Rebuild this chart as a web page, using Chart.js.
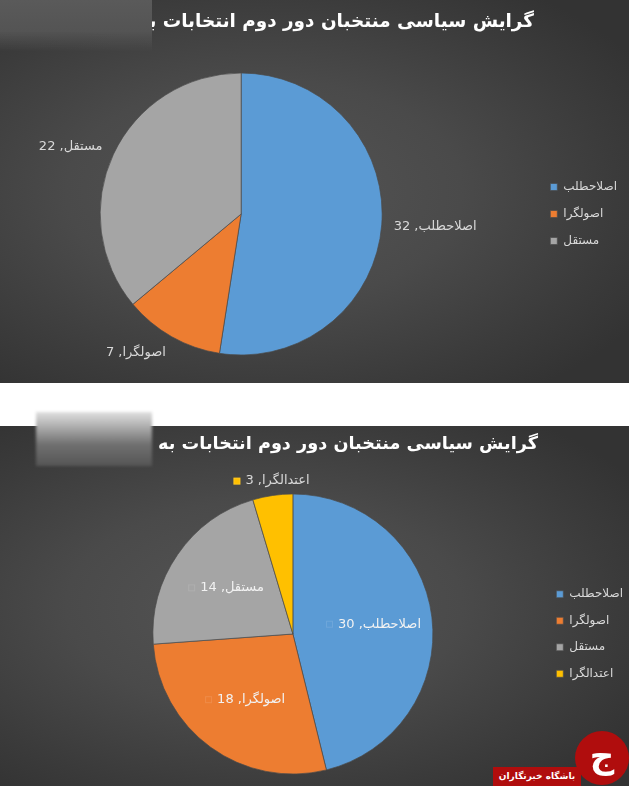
<!DOCTYPE html>
<html><head><meta charset="utf-8">
<script src="https://cdn.jsdelivr.net/npm/chart.js@4.4.1/dist/chart.umd.min.js"></script>
<style>
html,body{margin:0;padding:0;background:#fff;width:629px;height:786px;overflow:hidden;position:relative;}
.panel{position:absolute;left:0;width:629px;overflow:hidden;
  background:radial-gradient(ellipse 70% 65% at 42% 50%, #555555 0%, #4a4a4a 45%, #3b3b3b 80%, #333333 100%);}
#p1{top:0;height:383px;}
#p2{top:426px;height:360px;}
.title{position:absolute;direction:rtl;color:#ffffff;font-family:"DejaVu Sans";font-weight:bold;white-space:nowrap;line-height:20px;}
canvas{position:absolute;top:0;}
#blur1{position:absolute;left:0;top:0;width:152px;height:52px;background:linear-gradient(to bottom,#5a5a5a 0%,#545454 60%,rgba(80,80,80,0) 100%);}
#blur2{position:absolute;left:36px;top:412px;width:116px;height:54px;background:linear-gradient(to bottom,#e0e0e0 0%,#a8a8a8 30%,#707070 60%,#555555 100%);filter:blur(1.5px);}
#wmCircle{position:absolute;left:575px;top:731px;width:54px;height:54px;border-radius:50%;background:#b00d0d;color:#fff;font:bold 34px "DejaVu Sans";text-align:center;line-height:50px;}
#wmBar{position:absolute;left:493px;top:767px;width:88px;height:19px;background:#b00d0d;color:#fff;font:bold 9px "DejaVu Sans";text-align:center;line-height:19px;direction:rtl;}
</style></head>
<body>
<div class="panel" id="p1"><canvas id="c1"></canvas><div class="title" id="t1"></div><div id="blur1"></div></div>
<div class="panel" id="p2"><canvas id="c2"></canvas><div class="title" id="t2"></div></div>
<div id="blur2"></div>
<div id="wmBar">باشگاه خبرنگاران</div>
<div id="wmCircle">ج</div>
<script>
// ---- data ----
const chartTitle = 'گرایش سیاسی منتخبان دور دوم انتخابات به';
const topCategories = ['اصلاحطلب', 'اصولگرا', 'مستقل'];
const topValues = [32, 7, 22];
const bottomCategories = ['اصلاحطلب', 'اصولگرا', 'مستقل', 'اعتدالگرا'];
const bottomValues = [30, 18, 14, 3];
const sliceColors = ['#5b9bd5', '#ed7d31', '#a5a5a5', '#ffc000'];

// ---- titles (fit to the reference width) ----
function setTitle(id, rightEdge, targetWidth, centerY) {
  const el = document.getElementById(id);
  el.textContent = chartTitle;
  const m = document.createElement('canvas').getContext('2d');
  m.font = 'bold 20px "DejaVu Sans"';
  const w = m.measureText(chartTitle).width;
  const fs = 20 * targetWidth / w;
  el.style.fontSize = fs.toFixed(2) + 'px';
  el.style.right = (629 - rightEdge) + 'px';
  el.style.top = (centerY - 10) + 'px';
}
setTitle('t1', 534, 396, 21);
setTitle('t2', 538, 380, 17);

// ---- slice label plugin ----
const sliceLabels = {
  id: 'sliceLabels',
  afterDatasetsDraw(chart, args, opts) {
    const ctx = chart.ctx;
    const meta = chart.getDatasetMeta(0);
    const ds = chart.data.datasets[0];
    ctx.save();
    ctx.font = opts.font;
    ctx.direction = 'rtl';
    ctx.textBaseline = 'middle';
    meta.data.forEach((arc, i) => {
      const p = arc.getProps(['x', 'y', 'startAngle', 'endAngle', 'outerRadius'], true);
      const mid = (p.startAngle + p.endAngle) / 2;
      const span = p.endAngle - p.startAngle;
      const cos = Math.cos(mid), sin = Math.sin(mid);
      const text = chart.data.labels[i] + ', ' + ds.data[i];
      const tw = ctx.measureText(text).width;
      const keyW = opts.key ? opts.keySize + opts.keyGap : 0;
      const w = tw + keyW;
      const h = opts.lineHeight;
      const outside = opts.mode === 'outside' || span < opts.minInsideAngle;
      let ax, ay, left;
      if (outside) {
        const rr = p.outerRadius + opts.offset;
        ax = p.x + rr * cos;
        ay = p.y + rr * sin + sin * h / 2;
        if (cos > 0.25) left = ax; else if (cos < -0.25) left = ax - w; else left = ax - w / 2;
      } else {
        const rr = p.outerRadius * opts.insideRatio;
        ax = p.x + rr * cos;
        ay = p.y + rr * sin;
        left = ax - w / 2;
      }
      if (opts.key) {
        ctx.fillStyle = ds.backgroundColor[i];
        ctx.fillRect(left, ay - opts.keySize / 2, opts.keySize, opts.keySize);
        ctx.strokeStyle = 'rgba(255,255,255,0.12)';
        ctx.lineWidth = 1;
        ctx.strokeRect(left + 0.5, ay - opts.keySize / 2 + 0.5, opts.keySize - 1, opts.keySize - 1);
      }
      ctx.fillStyle = outside ? opts.outsideColor : opts.insideColor;
      ctx.textAlign = 'right';
      ctx.fillText(text, left + w, ay);
    });
    ctx.restore();
  }
};

// ---- chart builder ----
function makeChart(canvasId, cats, vals, cfg) {
  const fam = '"DejaVu Sans"';
  const m = document.createElement('canvas').getContext('2d');
  m.font = cfg.fs + 'px ' + fam;
  const tw = Math.max(...cats.map(c => m.measureText(c).width));
  const legendW = cfg.pad + cfg.box + cfg.fs / 2 + tw + 10;
  const legendLeft = cfg.markerX - cfg.pad;
  const canvasLeft = 2 * cfg.cx - legendLeft;
  const canvasW = Math.ceil(legendLeft + legendW - canvasLeft);
  const cv = document.getElementById(canvasId);
  cv.width = canvasW; cv.height = cfg.panelH;
  cv.style.width = canvasW + 'px'; cv.style.height = cfg.panelH + 'px';
  cv.style.left = canvasLeft + 'px';
  const padTop = cfg.cy - cfg.r - 1;
  const padBottom = cfg.panelH - (cfg.cy + cfg.r + 1);
  return new Chart(cv, {
    type: 'pie',
    data: {
      labels: cats,
      datasets: [{
        data: vals,
        backgroundColor: sliceColors.slice(0, vals.length),
        borderColor: 'rgba(75,75,75,0.7)',
        borderWidth: 1,
        radius: cfg.r
      }]
    },
    options: {
      responsive: false,
      animation: false,
      layout: { padding: { top: padTop, bottom: padBottom, left: 0, right: 0 } },
      plugins: {
        tooltip: { enabled: false },
        title: { display: false },
        legend: {
          position: 'right',
          align: 'center',
          labels: {
            color: '#d9d9d9',
            boxWidth: cfg.box,
            boxHeight: cfg.box,
            padding: cfg.pad,
            font: { family: fam, size: cfg.fs }
          }
        },
        sliceLabels: cfg.labels
      }
    },
    plugins: [sliceLabels]
  });
}

makeChart('c1', topCategories, topValues, {
  cx: 241, cy: 214, r: 141, panelH: 383,
  markerX: 550, pad: 15, box: 7, fs: 12,
  labels: {
    mode: 'outside', font: '13px "DejaVu Sans"', lineHeight: 13,
    offset: 12, outsideColor: '#d9d9d9', insideColor: '#ffffff', key: false
  }
});

makeChart('c2', bottomCategories, bottomValues, {
  cx: 292, cy: 208, r: 140, panelH: 360,
  markerX: 555, pad: 14.5, box: 7, fs: 12,
  labels: {
    mode: 'best', minInsideAngle: 0.5, insideRatio: 0.58,
    font: '13px "DejaVu Sans"', lineHeight: 13, offset: 8,
    outsideColor: '#d9d9d9', insideColor: '#f2f2f2',
    key: true, keySize: 7, keyGap: 5
  }
});
</script>
</body></html>
